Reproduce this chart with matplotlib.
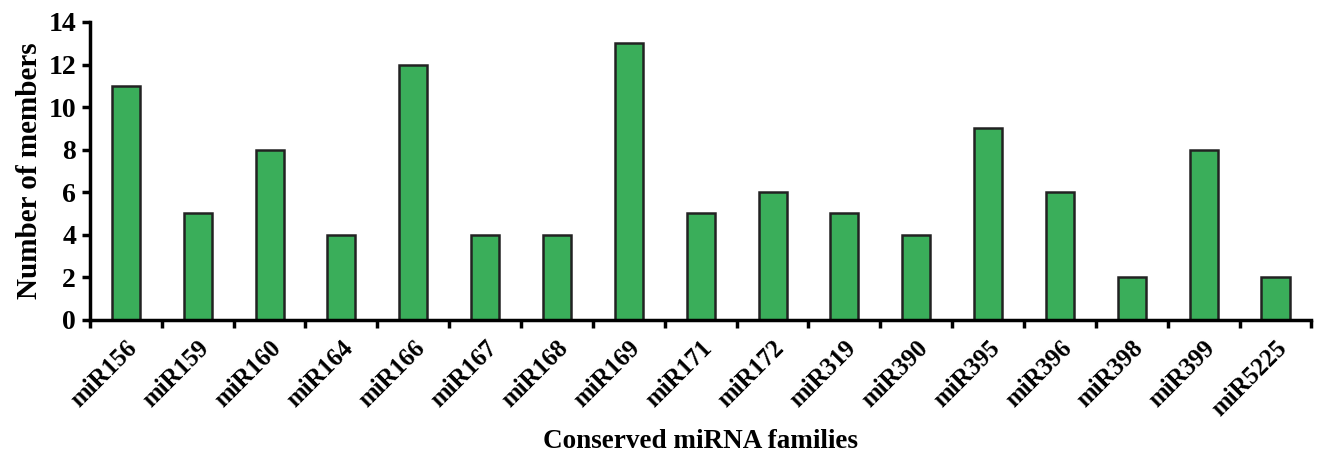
import matplotlib
matplotlib.use("Agg")
import matplotlib.pyplot as plt
import numpy as np

families = ["miR156", "miR159", "miR160", "miR164", "miR166", "miR167", "miR168",
            "miR169", "miR171", "miR172", "miR319", "miR390", "miR395", "miR396",
            "miR398", "miR399", "miR5225"]
members = [11, 5, 8, 4, 12, 4, 4, 13, 5, 6, 5, 4, 9, 6, 2, 8, 2]
yticks = [0, 2, 4, 6, 8, 10, 12, 14]

plt.rcParams['font.family'] = ['Liberation Serif', 'DejaVu Serif']
plt.rcParams['font.weight'] = 'bold'

fig = plt.figure(figsize=(13.22, 4.57), dpi=100)
ax = fig.add_axes([0.068, 0.300, 0.924, 0.652])

n = len(families)
x = np.arange(n) + 0.5
ax.bar(x, members, width=0.39, color='#3aae5a', edgecolor='#222222', linewidth=1.8)

ax.set_xlim(0, n)
ax.set_ylim(0, 14)
ax.set_yticks(yticks)
ax.set_yticklabels([str(t) for t in yticks], fontsize=20, fontweight='bold')

ax.set_xticks(np.arange(n + 1))
ax.set_xticklabels([])
ax.set_xticks(x, minor=True)
ax.set_xticklabels(families, minor=True, rotation=45, ha='right', rotation_mode='anchor',
                   fontsize=18, fontweight='bold')
ax.tick_params(axis='x', which='minor', length=0, pad=12)
ax.tick_params(axis='x', which='major', length=6, width=2.5, direction='out')
ax.tick_params(axis='y', length=6, width=2.5, direction='out', pad=4)

for s in ['top', 'right']:
    ax.spines[s].set_visible(False)
for s in ['left', 'bottom']:
    ax.spines[s].set_linewidth(2.5)

ax.set_ylabel('Number of members', fontsize=21, fontweight='bold', labelpad=4)
ax.set_xlabel('Conserved miRNA families', fontsize=19.5, fontweight='bold', labelpad=6)

fig.savefig('out.png', dpi=100)
